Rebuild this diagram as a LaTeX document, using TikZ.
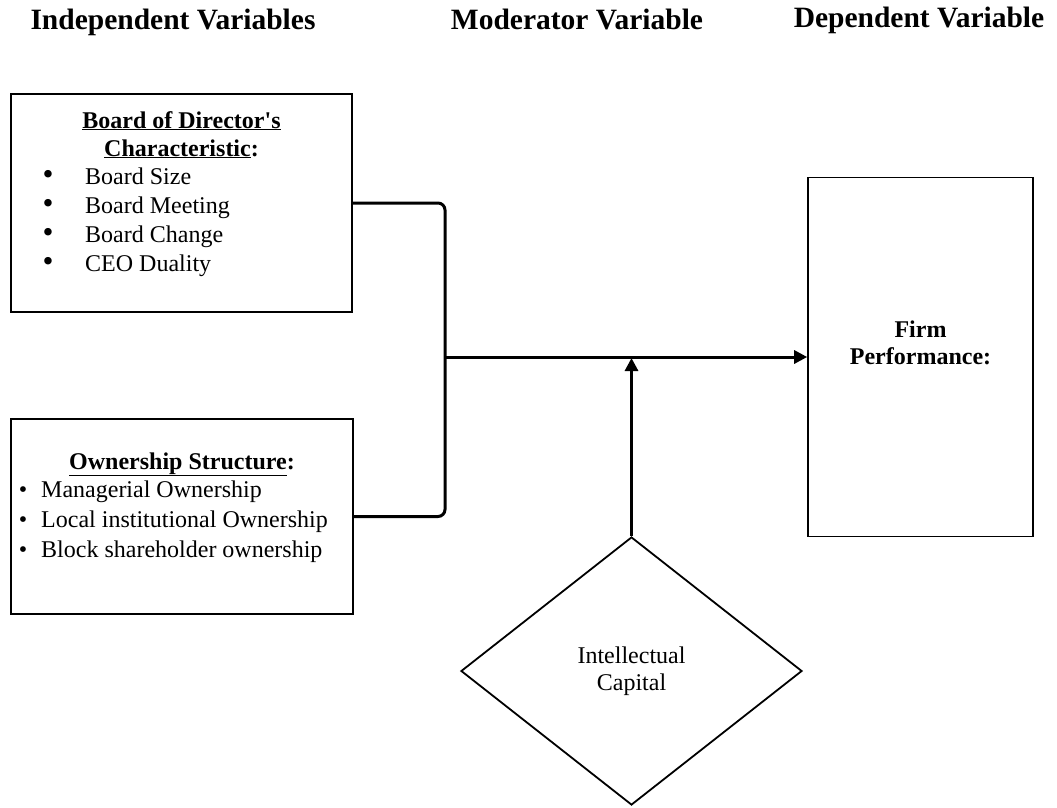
\documentclass[tikz,border=0pt]{standalone}
\usepackage{fontspec}
\newfontfamily\tnr{Liberation Serif}
\usetikzlibrary{shapes.geometric,arrows.meta}
\tikzset{
  boxnode/.style={draw, line width=1.6pt, inner sep=0pt},
  conn/.style={line width=3pt, black},
  arr/.style={conn, -{Triangle[length=13pt,width=13pt]}},
  title/.style={font=\tnr\bfseries\fontsize{29.5}{33}\selectfont, anchor=base, inner sep=0pt},
  body/.style={font=\tnr\fontsize{24}{29}\selectfont, anchor=base west, inner sep=0pt},
  bodyc/.style={font=\tnr\fontsize{24}{29}\selectfont, anchor=base, inner sep=0pt},
  bullet/.style={font=\tnr\fontsize{24}{29}\selectfont, anchor=base, inner sep=0pt},
}
\begin{document}
\begin{tikzpicture}[x=1pt,y=-1pt]
\useasboundingbox (0,0) rectangle (1057,807);
% titles
\node[title] (t1) at (173,29) {Independent Variables};
\node[title] (t2) at (577,29) {Moderator Variable};
\node[title] (t3) at (919,27) {Dependent Variable};
% box 1
\node[boxnode, minimum width=341pt, minimum height=218pt] (b1) at (181.5,203) {};
\node[bodyc, font=\tnr\bfseries\fontsize{24}{29}\selectfont] (b1t1) at (181.5,128) {\underline{Board of Director's}};
\node[bodyc, font=\tnr\bfseries\fontsize{24}{29}\selectfont] (b1t2) at (181.5,156) {\underline{Characteristic}:};
\node[bullet] (b1p1) at (48,184) {\scalebox{1.3}{\textbullet}};
\node[body] (b1l1) at (85,184) {Board Size};
\node[bullet] (b1p2) at (48,213) {\scalebox{1.3}{\textbullet}};
\node[body] (b1l2) at (85,213) {Board Meeting};
\node[bullet] (b1p3) at (48,242) {\scalebox{1.3}{\textbullet}};
\node[body] (b1l3) at (85,242) {Board Change};
\node[bullet] (b1p4) at (48,271) {\scalebox{1.3}{\textbullet}};
\node[body] (b1l4) at (85,271) {CEO Duality};
% box 2
\node[boxnode, minimum width=342pt, minimum height=195pt] (b2) at (182,516.5) {};
\node[bodyc, font=\tnr\bfseries\fontsize{24}{29}\selectfont] (b2t) at (182,469) {\underline{Ownership Structure}:};
\node[bullet] (b2p1) at (23,497) {\textbullet};
\node[body] (b2l1) at (41,497) {Managerial Ownership};
\node[bullet] (b2p2) at (23,527) {\textbullet};
\node[body] (b2l2) at (41,527) {Local institutional Ownership};
\node[bullet] (b2p3) at (23,557) {\textbullet};
\node[body] (b2l3) at (41,557) {Block shareholder ownership};
% firm performance
\node[boxnode, minimum width=225pt, minimum height=359pt] (firm) at (920.5,357) {};
\node[bodyc, font=\tnr\bfseries\fontsize{24}{29}\selectfont] (f1) at (920.5,337) {Firm};
\node[bodyc, font=\tnr\bfseries\fontsize{24}{29}\selectfont] (f2) at (920.5,364) {Performance:};
% moderator diamond
\node[diamond, draw, line width=1.8pt, minimum width=341pt, minimum height=268pt, inner sep=0pt,
      align=center, font=\tnr\fontsize{24}{27}\selectfont] (ic) at (631.5,671) {Intellectual\\Capital};
% connectors
\coordinate (join) at (445,357);
\draw[conn, rounded corners=7pt] (b1.east) -| (join) |- (b2.east);
\draw[arr] (join) -- (firm.west);
\draw[arr] (ic.north) -- ([yshift=-1pt]ic.north |- join);
\end{tikzpicture}
\end{document}
